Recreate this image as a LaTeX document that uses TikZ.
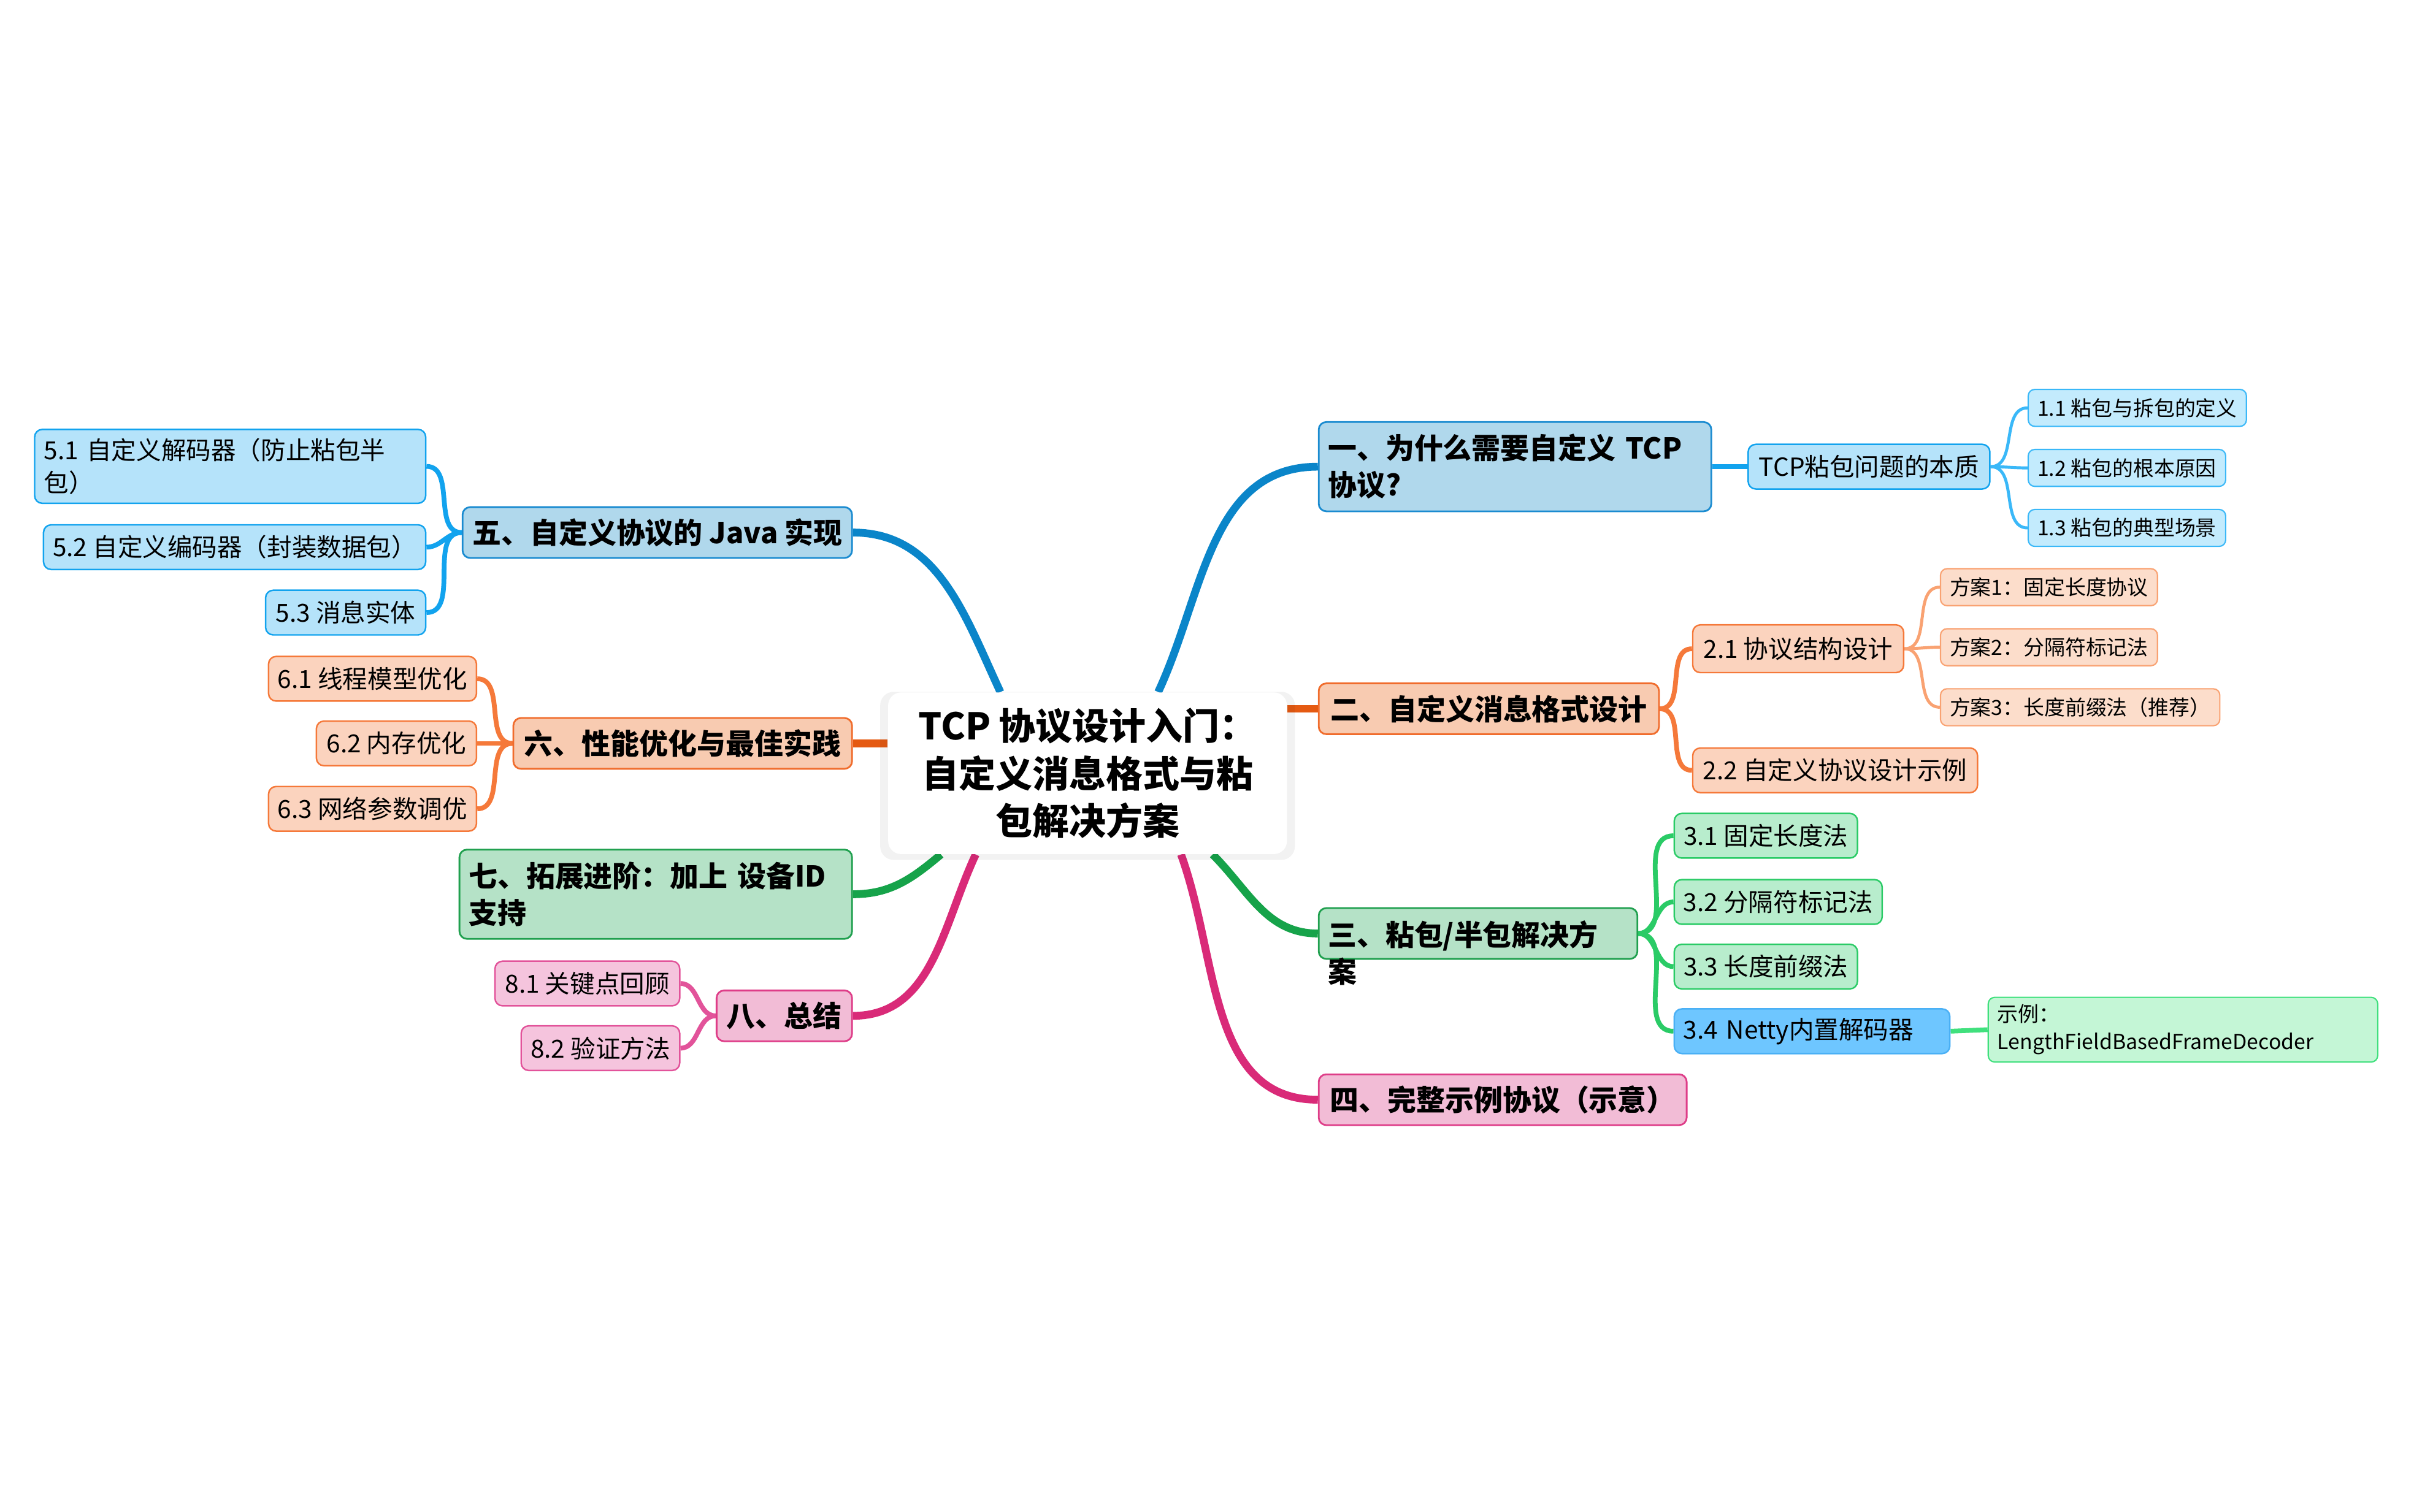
\documentclass[tikz,border=0pt]{standalone}
\usepackage{fontspec}
\setmainfont{Noto Sans CJK SC}
\usepackage{tikz}
\usetikzlibrary{positioning,shadows,backgrounds}
\definecolor{BlueMain}{HTML}{0A85C9}
\definecolor{BlueOneFill}{HTML}{B0D8EC}
\definecolor{BlueOneLine}{HTML}{1A8BD0}
\definecolor{BlueTwoFill}{HTML}{B5E3FA}
\definecolor{BlueTwoLine}{HTML}{12A3EE}
\definecolor{BlueThreeFill}{HTML}{C3EBFD}
\definecolor{BlueThreeLine}{HTML}{3AB8F8}
\definecolor{OrangeMain}{HTML}{E55A12}
\definecolor{OrangeOneFill}{HTML}{F8CBB1}
\definecolor{OrangeOneLine}{HTML}{F06C2C}
\definecolor{OrangeTwoFill}{HTML}{FBD3BE}
\definecolor{OrangeTwoLine}{HTML}{F5793A}
\definecolor{OrangeThreeFill}{HTML}{FCDDCB}
\definecolor{OrangeThreeLine}{HTML}{F9A272}
\definecolor{GreenMain}{HTML}{16A34A}
\definecolor{GreenOneFill}{HTML}{B5E2C7}
\definecolor{GreenOneLine}{HTML}{20A04F}
\definecolor{GreenTwoFill}{HTML}{B8EDCD}
\definecolor{GreenTwoLine}{HTML}{2ACB66}
\definecolor{GreenThreeFill}{HTML}{C4F6D6}
\definecolor{GreenThreeLine}{HTML}{40E07D}
\definecolor{PinkMain}{HTML}{D92A78}
\definecolor{PinkOneFill}{HTML}{F2BCD6}
\definecolor{PinkOneLine}{HTML}{DE3D88}
\definecolor{PinkTwoFill}{HTML}{F5C4DD}
\definecolor{PinkTwoLine}{HTML}{E2539A}
\definecolor{NettyFill}{HTML}{6EC6FF}
\definecolor{NettyLine}{HTML}{4AB0F5}
\tikzset{
  % Root box
  RT/.style={rectangle,rounded corners=6pt,fill=white,draw=none,
             minimum width=6.475cm,minimum height=2.625cm,
             align=center,inner sep=0pt,
             font=\fontsize{17}{22}\selectfont\bfseries,
             drop shadow={shadow xshift=0pt,shadow yshift=-0.04cm,
                          shadow scale=1.04,opacity=0.05,fill=black}},
  % Main topic box
  MB/.style={rectangle,rounded corners=3.5pt,draw,line width=0.8pt,
             minimum height=0.825cm,inner xsep=0.15cm,inner ysep=0.05cm,
             align=center,font=\fontsize{13.3}{17}\selectfont\bfseries},
  % Sub topic box
  SB/.style={rectangle,rounded corners=3.5pt,draw,line width=0.7pt,
             minimum height=0.725cm,inner xsep=0.15cm,inner ysep=0.05cm,
             align=center,font=\fontsize{11.5}{15}\selectfont},
  % Third level box
  TB/.style={rectangle,rounded corners=3pt,draw,line width=0.6pt,
             minimum height=0.6cm,inner xsep=0.15cm,inner ysep=0.04cm,
             align=center,font=\fontsize{9.6}{12.8}\selectfont},
  % Colour variants
  mB/.style={MB,fill=BlueOneFill,  draw=BlueOneLine},
  mO/.style={MB,fill=OrangeOneFill,draw=OrangeOneLine},
  mG/.style={MB,fill=GreenOneFill, draw=GreenOneLine},
  mP/.style={MB,fill=PinkOneFill,  draw=PinkOneLine},
  sB/.style={SB,fill=BlueTwoFill,  draw=BlueTwoLine},
  sO/.style={SB,fill=OrangeTwoFill,draw=OrangeTwoLine},
  sG/.style={SB,fill=GreenTwoFill, draw=GreenTwoLine},
  sP/.style={SB,fill=PinkTwoFill,  draw=PinkTwoLine},
  sN/.style={SB,fill=NettyFill,    draw=NettyLine},
  tB/.style={TB,fill=BlueThreeFill,  draw=BlueThreeLine},
  tO/.style={TB,fill=OrangeThreeFill,draw=OrangeThreeLine},
  tG/.style={TB,fill=GreenThreeFill, draw=GreenThreeLine},
  % Branches
  b1/.style={line width=3.6pt},
  b2/.style={line width=2.2pt},
  b3/.style={line width=1.4pt}
}

\begin{document}
\begin{tikzpicture}[x=1cm,y=1cm]
  \useasboundingbox (0,0) rectangle (39.2,-24.55);
  % Root
  \node[RT] (root) at (17.66,-12.56)
    {TCP 协议设计入门：\\自定义消息格式与粘\\包解决方案};

  % Right main topics
  \node[mB,anchor=west,minimum height=1.45cm,text width=6.075cm,align=left] (why) at (21.4,-7.58)
    {一、为什么需要自定义 TCP\\协议?};
  \node[mO,anchor=west,minimum width=5.525cm] (fmt) at (21.4,-11.5125)
    {二、自定义消息格式设计};
  \node[mG,anchor=west,text width=4.875cm,align=left,text depth=0pt] (fix) at (21.4,-15.1625)
    {三、粘包/半包解决方\\案};
  \node[mP,anchor=west,minimum width=5.975cm] (demo) at (21.4,-17.8625)
    {四、完整示例协议（示意）};

  % Left main topics
  \node[mB,anchor=east,minimum width=6.325cm] (java) at (13.85,-8.65)
    {五、自定义协议的 Java 实现};
  \node[mO,anchor=east,minimum width=5.5cm] (perf) at (13.85,-12.075)
    {六、性能优化与最佳实践};
  \node[mG,anchor=east,minimum height=1.45cm,text width=6.075cm,align=left] (ext) at (13.85,-14.525)
    {七、拓展进阶：加上 设备ID\\支持};
  \node[mP,anchor=east,minimum width=2.2cm] (sum) at (13.85,-16.5)
    {八、总结};

  % Branch one
  \node[sB,anchor=west,minimum width=3.925cm] (sticky) at (28.375,-7.58) {TCP粘包问题的本质};
  \node[tB,anchor=west,minimum width=3.525cm] (s11) at (32.925,-6.625) {1.1 粘包与拆包的定义};
  \node[tB,anchor=west,minimum width=3.175cm] (s12) at (32.925,-7.6) {1.2 粘包的根本原因};
  \node[tB,anchor=west,minimum width=3.175cm] (s13) at (32.925,-8.575) {1.3 粘包的典型场景};

  % Branch two
  \node[sO,anchor=west,minimum width=3.425cm,minimum height=0.775cm] (s21) at (27.475,-10.5375) {2.1 协议结构设计};
  \node[tO,anchor=west,minimum width=3.5cm] (p1) at (31.5,-9.5375) {方案1：固定长度协议};
  \node[tO,anchor=west,minimum width=3.5cm] (p2) at (31.5,-10.5125) {方案2：分隔符标记法};
  \node[tO,anchor=west,minimum width=4.5cm] (p3) at (31.5,-11.4875) {方案3：长度前缀法（推荐）};
  \node[sO,anchor=west,minimum width=4.625cm] (s22) at (27.475,-12.5125) {2.2 自定义协议设计示例};

  % Branch three
  \node[sG,anchor=west,minimum width=2.975cm] (s31) at (27.175,-13.575) {3.1 固定长度法};
  \node[sG,anchor=west,minimum width=3.375cm] (s32) at (27.175,-14.65) {3.2 分隔符标记法};
  \node[sG,anchor=west,minimum width=2.975cm] (s33) at (27.175,-15.7) {3.3 长度前缀法};
  \node[sN,anchor=west,text width=4.175cm,align=left] (s34) at (27.175,-16.75) {3.4 Netty内置解码器};
  \node[tG,anchor=west,minimum height=1.05cm,text width=6.025cm,align=left] (netty) at (32.275,-16.725)
    {示例：\\LengthFieldBasedFrameDecoder};

  % Branch five
  \node[sB,anchor=east,minimum height=1.2cm,text width=6.05cm,align=left] (s51) at (6.925,-7.575)
    {5.1 自定义解码器（防止粘包半\\包）};
  \node[sB,anchor=east,minimum width=6.2cm] (s52) at (6.925,-8.8875) {5.2 自定义编码器（封装数据包）};
  \node[sB,anchor=east,minimum width=2.6cm] (s53) at (6.925,-9.95) {5.3 消息实体};

  % Branch six
  \node[sO,anchor=east,minimum width=3.375cm] (s61) at (7.75,-11.025) {6.1 线程模型优化};
  \node[sO,anchor=east,minimum width=2.6cm] (s62) at (7.75,-12.075) {6.2 内存优化};
  \node[sO,anchor=east,minimum width=3.375cm] (s63) at (7.75,-13.1375) {6.3 网络参数调优};

  % Branch eight
  \node[sP,anchor=east,minimum width=3.0cm] (s81) at (11.05,-15.975) {8.1 关键点回顾};
  \node[sP,anchor=east,minimum width=2.575cm] (s82) at (11.05,-17.025) {8.2 验证方法};

  \begin{scope}[on background layer]
    % Root to main topics
    \draw[b1,BlueMain]   (root.49)  to[out=65,in=180]   (why.west);
    \draw[b1,OrangeMain] (fmt.west -| root.east) -- (fmt.west);
    \draw[b1,GreenMain]  (root.-33) to[out=-45,in=180]  (fix.west);
    \draw[b1,PinkMain]   (root.-41) to[out=-70,in=180]  (demo.west);
    \draw[b1,BlueMain]   (root.137) to[out=115,in=0]    (java.east);
    \draw[b1,OrangeMain] (perf.east -| root.west) -- (perf.east);
    \draw[b1,GreenMain]  (root.-151) to[out=-140,in=0]  (ext.east);
    \draw[b1,PinkMain]   (root.-144) to[out=-115,in=0]  (sum.east);
    % Main topics to sub topics
    \draw[b2,BlueTwoLine] (why.east) -- (sticky.west);
    \foreach \k in {s11,s12,s13}
      \draw[b3,BlueThreeLine] (sticky.east) to[out=0,in=180] (\k.west);
    \foreach \k in {s21,s22}
      \draw[b2,OrangeTwoLine] (fmt.east) to[out=0,in=180] (\k.west);
    \foreach \k in {p1,p2,p3}
      \draw[b3,OrangeThreeLine] (s21.east) to[out=0,in=180] (\k.west);
    \foreach \k in {s31,s32,s33,s34}
      \draw[b2,GreenTwoLine] (fix.east) to[out=0,in=180] (\k.west);
    \draw[b2,GreenThreeLine] (s34.east) -- (netty.west);
    \foreach \k in {s51,s52,s53}
      \draw[b2,BlueTwoLine] (java.west) to[out=180,in=0] (\k.east);
    \foreach \k in {s61,s62,s63}
      \draw[b2,OrangeTwoLine] (perf.west) to[out=180,in=0] (\k.east);
    \foreach \k in {s81,s82}
      \draw[b2,PinkTwoLine] (sum.west) to[out=180,in=0] (\k.east);
  \end{scope}
\end{tikzpicture}
\end{document}
